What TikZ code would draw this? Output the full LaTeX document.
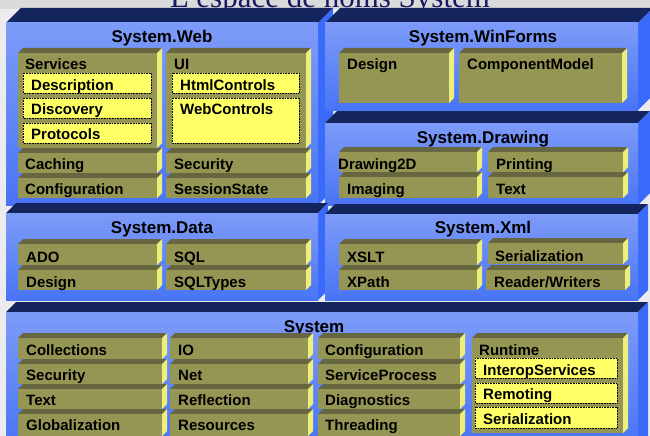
\documentclass[tikz,border=0pt]{standalone}
\usepackage{fontspec}
\setsansfont{Liberation Sans}
\newfontfamily\titlefont{Liberation Serif}
\definecolor{bgc}{RGB}{236,236,240}
\definecolor{bandc}{RGB}{218,218,218}
\definecolor{navy}{RGB}{20,36,92}
\definecolor{bside}{RGB}{58,106,250}
\definecolor{btop}{RGB}{125,155,248}
\definecolor{bbot}{RGB}{72,116,246}
\definecolor{ofront}{RGB}{150,150,84}
\definecolor{otop}{RGB}{102,102,64}
\definecolor{oside}{RGB}{238,238,122}
\definecolor{yel}{RGB}{255,255,102}
\definecolor{titlecol}{RGB}{24,24,100}
\tikzset{
  lbl/.style={anchor=base west, inner sep=0pt, text=black, font=\sffamily\bfseries\fontsize{15}{15}\selectfont},
  ttl/.style={anchor=base, inner sep=0pt, text=black, font=\sffamily\bfseries\fontsize{17}{17}\selectfont},
  ybox/.style={fill=yel, draw=black, densely dotted, line width=0.6pt},
}
\newcommand\BigBox[5]{%
  \fill[navy] (#1,#2) -- ({#1+#5},{#2-#5}) -- ({#3+#5},{#2-#5}) -- (#3,#2) -- cycle;
  \fill[bside] (#3,#2) -- ({#3+#5},{#2-#5}) -- ({#3+#5},{#4-#5}) -- (#3,#4) -- cycle;
  \shade[top color=btop, bottom color=bbot] (#1,#2) rectangle (#3,#4);
}
\newcommand\SubBox[4]{%
  \fill[otop] (#1,#2) -- ({#1+5},{#2-5}) -- ({#3+5},{#2-5}) -- (#3,#2) -- cycle;
  \fill[oside] (#3,#2) -- ({#3+5},{#2-5}) -- ({#3+5},{#4-5}) -- (#3,#4) -- cycle;
  \fill[ofront] (#1,#2) rectangle (#3,#4);
}
\begin{document}
\begin{tikzpicture}[x=1pt,y=-1pt]
\useasboundingbox (0,0) rectangle (650,436);
\clip (0,0) rectangle (650,436);
\fill[bgc] (0,0) rectangle (650,436);
\fill[bandc] (0,0) rectangle (650,9);
\node[anchor=base, inner sep=0pt, text=titlecol, font=\titlefont\fontsize{31}{31}\selectfont] (title) at (330,8) {L’espace de noms System};

% ---------------- System.Web
\BigBox{6}{23}{318}{205}{15}
\node[ttl] (webt) at (162,43) {System.Web};
\SubBox{18}{53}{157}{148}
\node[lbl] (services) at (25,70) {Services};
\draw[ybox] (23,73) rectangle (151,93);
\node[lbl] (descr) at (31,90) {Description};
\draw[ybox] (23,98) rectangle (151,118);
\node[lbl] (disco) at (31,114.5) {Discovery};
\draw[ybox] (23,123) rectangle (151,143);
\node[lbl] (proto) at (31,139) {Protocols};
\SubBox{166}{53}{306}{148}
\node[lbl] (ui) at (174,70) {UI};
\draw[ybox] (172,73) rectangle (299,93);
\node[lbl] (html) at (180,90) {HtmlControls};
\draw[ybox] (172,98) rectangle (299,143);
\node[lbl] (webc) at (180,114.5) {WebControls};
\SubBox{18}{153}{157}{173}
\node[lbl] (caching) at (25,169) {Caching};
\SubBox{166}{153}{306}{173}
\node[lbl] (wsec) at (174,169) {Security};
\SubBox{18}{178}{157}{198}
\node[lbl] (wconf) at (25,194) {Configuration};
\SubBox{166}{178}{306}{198}
\node[lbl] (sess) at (174,194) {SessionState};

% ---------------- System.WinForms
\BigBox{325}{23}{638}{110}{15}
\node[ttl] (wint) at (483,43) {System.WinForms};
\SubBox{339}{53}{449}{103}
\node[lbl] (wdesign) at (347,70) {Design};
\SubBox{459}{53}{622}{103}
\node[lbl] (compm) at (467,70) {ComponentModel};

% ---------------- System.Drawing
\BigBox{325}{123}{638}{205}{12}
\node[ttl] (drawt) at (483,143) {System.Drawing};
\SubBox{339}{152}{477}{172}
\node[lbl] (d2d) at (338,169) {Drawing2D};
\SubBox{488}{152}{623}{172}
\node[lbl] (printing) at (496,169) {Printing};
\SubBox{339}{177}{477}{198}
\node[lbl] (imaging) at (347,194) {Imaging};
\SubBox{488}{177}{623}{198}
\node[lbl] (dtext) at (496,194) {Text};

% ---------------- System.Data
\BigBox{6}{213}{318}{300}{10}
\node[ttl] (datat) at (162,233) {System.Data};
\SubBox{18}{244}{157}{265}
\node[lbl] (ado) at (26,262) {ADO};
\SubBox{166}{244}{306}{265}
\node[lbl] (sql) at (174,262) {SQL};
\SubBox{18}{270}{157}{290}
\node[lbl] (ddesign) at (26,287) {Design};
\SubBox{166}{270}{306}{290}
\node[lbl] (sqlt) at (174,287) {SQLTypes};

% ---------------- System.Xml
\BigBox{325}{214}{638}{300}{10}
\node[ttl] (xmlt) at (483,233) {System.Xml};
\SubBox{339}{244}{477}{265}
\node[lbl] (xslt) at (347,262) {XSLT};
\SubBox{488}{243}{623}{264}
\node[lbl] (xser) at (495,261) {Serialization};
\SubBox{339}{270}{477}{290}
\node[lbl] (xpath) at (347,287) {XPath};
\SubBox{486}{270}{625}{290}
\node[lbl] (rw) at (494,287) {Reader/Writers};

% ---------------- System
\BigBox{6}{312}{638}{446}{10}
\node[ttl] (syst) at (314,332) {System};
% column 1
\SubBox{18}{338}{162}{359}
\node[lbl] (coll) at (26,355) {Collections};
\SubBox{18}{364}{162}{384}
\node[lbl] (ssec) at (26,380) {Security};
\SubBox{18}{389}{162}{409}
\node[lbl] (stext) at (26,405) {Text};
\SubBox{18}{414}{162}{436}
\node[lbl] (glob) at (26,430) {Globalization};
% column 2
\SubBox{170}{338}{308}{359}
\node[lbl] (io) at (178,355) {IO};
\SubBox{170}{364}{308}{384}
\node[lbl] (net) at (178,380) {Net};
\SubBox{170}{389}{308}{409}
\node[lbl] (refl) at (178,405) {Reflection};
\SubBox{170}{414}{308}{436}
\node[lbl] (res) at (178,430) {Resources};
% column 3
\SubBox{318}{338}{460}{359}
\node[lbl] (sconf) at (325,355) {Configuration};
\SubBox{318}{364}{460}{384}
\node[lbl] (sproc) at (325,380) {ServiceProcess};
\SubBox{318}{389}{460}{409}
\node[lbl] (diag) at (325,405) {Diagnostics};
\SubBox{318}{414}{460}{436}
\node[lbl] (thread) at (325,430) {Threading};
% column 4
\SubBox{472}{338}{623}{433}
\node[lbl] (runtime) at (479,355) {Runtime};
\draw[ybox] (475,358) rectangle (617,378);
\node[lbl] (interop) at (483,375) {InteropServices};
\draw[ybox] (475,383) rectangle (617,403);
\node[lbl] (remoting) at (483,399) {Remoting};
\draw[ybox] (475,407) rectangle (617,428);
\node[lbl] (rser) at (483,424) {Serialization};
\end{tikzpicture}
\end{document}
